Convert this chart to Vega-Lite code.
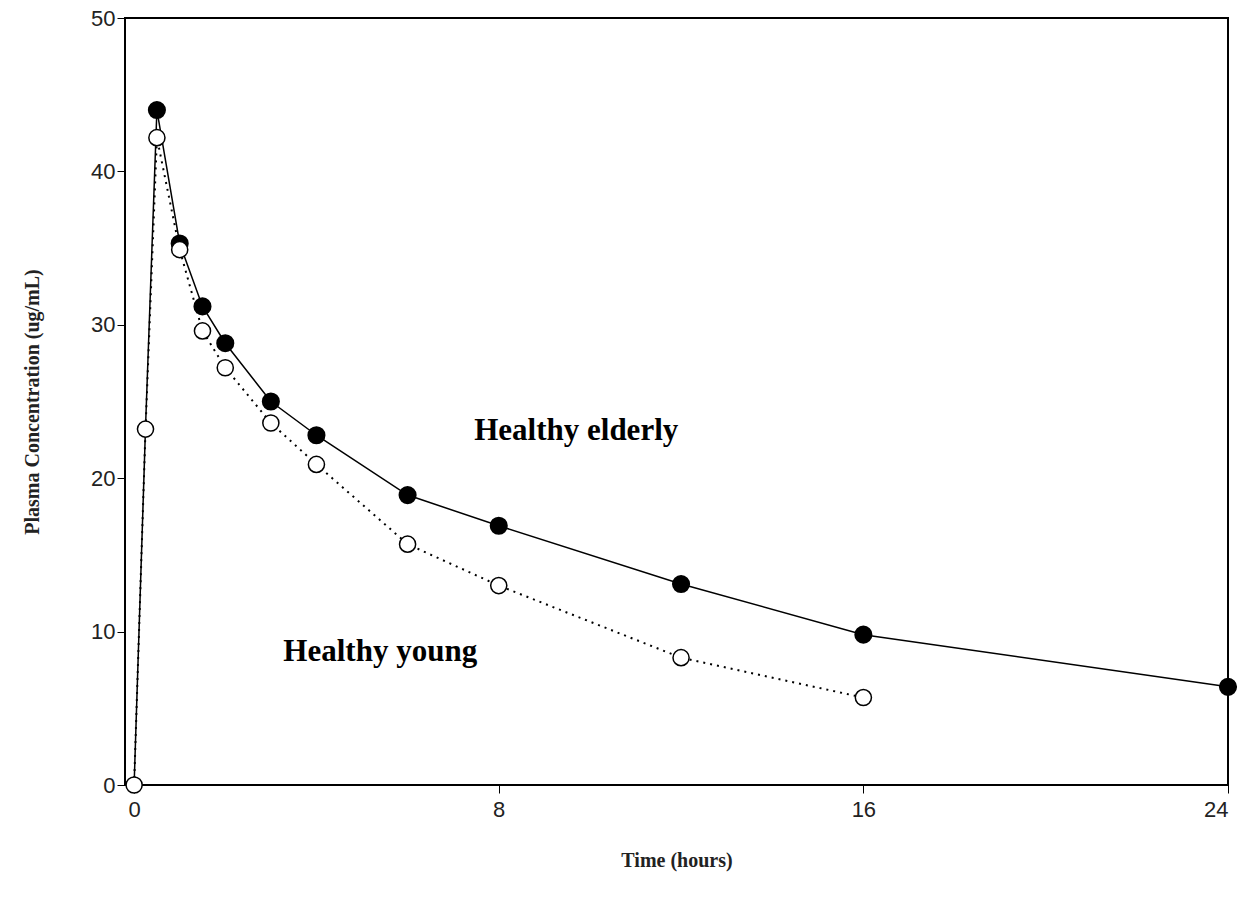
{
"$schema":"https://vega.github.io/schema/vega-lite/v6.json",
"autosize":{"type":"none"},
"padding":{"left":125,"top":18,"right":19,"bottom":124},
"width":1103,"height":767,
"background":"white",
"config":{"view":{"stroke":"black","strokeWidth":2},"axis":{"grid":false,"domainColor":"black","tickColor":"black","labelColor":"#222","labelFont":"Liberation Sans","labelFontSize":22,"titleFont":"Liberation Serif","titleFontSize":20,"titleFontWeight":"bold","titleColor":"#222"}},
"data":{"values":[
{"t":0,"c":0,"g":"elderly"},{"t":0.25,"c":23.3,"g":"elderly"},{"t":0.5,"c":44,"g":"elderly"},{"t":1,"c":35.3,"g":"elderly"},{"t":1.5,"c":31.2,"g":"elderly"},{"t":2,"c":28.8,"g":"elderly"},{"t":3,"c":25,"g":"elderly"},{"t":4,"c":22.8,"g":"elderly"},{"t":6,"c":18.9,"g":"elderly"},{"t":8,"c":16.9,"g":"elderly"},{"t":12,"c":13.1,"g":"elderly"},{"t":16,"c":9.8,"g":"elderly"},{"t":24,"c":6.4,"g":"elderly"},
{"t":0,"c":0,"g":"young"},{"t":0.25,"c":23.2,"g":"young"},{"t":0.5,"c":42.2,"g":"young"},{"t":1,"c":34.9,"g":"young"},{"t":1.5,"c":29.6,"g":"young"},{"t":2,"c":27.2,"g":"young"},{"t":3,"c":23.6,"g":"young"},{"t":4,"c":20.9,"g":"young"},{"t":6,"c":15.7,"g":"young"},{"t":8,"c":13,"g":"young"},{"t":12,"c":8.3,"g":"young"},{"t":16,"c":5.7,"g":"young"}
]},
"encoding":{
"x":{"field":"t","type":"quantitative","scale":{"domain":[-0.2,24],"nice":false},"axis":{"values":[0,8,16,24],"title":"Time (hours)","titlePadding":30,"tickSize":8,"labelPadding":6}},
"y":{"field":"c","type":"quantitative","scale":{"domain":[0,50],"nice":false},"axis":{"values":[0,10,20,30,40,50],"title":"Plasma Concentration (ug/mL)","titlePadding":48,"tickSize":8}}
},
"layer":[
{"mark":{"type":"line","color":"black","strokeWidth":1.5},"transform":[{"filter":"datum.g=='elderly'"}],"encoding":{}},
{"mark":{"type":"line","color":"black","strokeWidth":2,"strokeDash":[2,5]},"transform":[{"filter":"datum.g=='young'"}],"encoding":{}},
{"mark":{"type":"point","shape":"circle","filled":true,"fill":"black","stroke":"black","size":260,"opacity":1},"transform":[{"filter":"datum.g=='elderly' && datum.t>=0.5"}]},
{"mark":{"type":"point","shape":"circle","filled":true,"fill":"white","stroke":"black","strokeWidth":1.5,"size":260,"opacity":1},"transform":[{"filter":"datum.g=='young'"}]},
{"data":{"values":[{"t":9.7,"c":23.1,"label":"Healthy elderly"},{"t":5.4,"c":8.7,"label":"Healthy young"}]},
"mark":{"type":"text","font":"Liberation Serif","fontWeight":"bold","fontSize":31,"color":"black"},
"encoding":{"text":{"field":"label"}}}
]
}
